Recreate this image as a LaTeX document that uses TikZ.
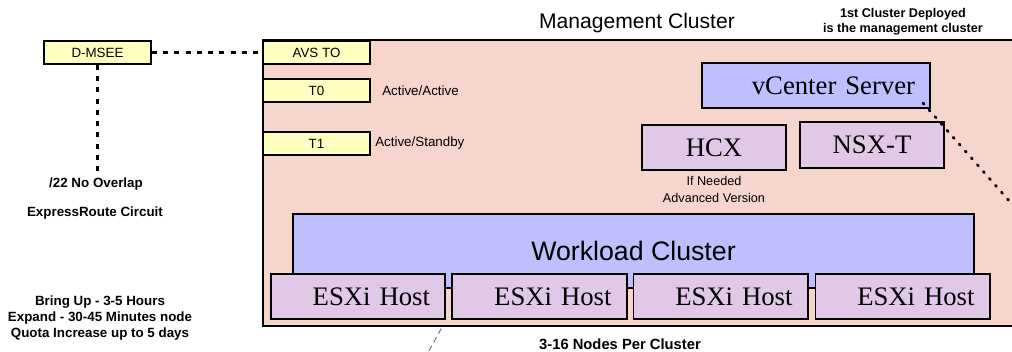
\documentclass[tikz,border=0pt]{standalone}
\usepackage{fontspec}
\setmainfont{Liberation Sans}
\newfontfamily\hostfont{Liberation Serif}
\usetikzlibrary{positioning,backgrounds}

\definecolor{mgmtpink}{HTML}{F5D5CC}
\definecolor{edgeyellow}{HTML}{FFFFC0}
\definecolor{clusterblue}{HTML}{BFBFFF}
\definecolor{vmpurple}{HTML}{E0C8E6}

\tikzset{
  edgebox/.style={draw, line width=1.4pt, fill=edgeyellow, minimum width=2.675cm,
    minimum height=0.575cm, inner sep=0pt, font=\fontsize{9.5}{11}\selectfont},
  vmbox/.style={draw, line width=1.4pt, fill=vmpurple, minimum height=1.125cm,
    inner sep=0pt, font=\hostfont\fontsize{19}{22}\selectfont},
  hostbox/.style={vmbox, text width=3.6cm, inner xsep=0.375cm, align=right},
  note/.style={inner sep=0pt, align=center, font=\bfseries\fontsize{9.5}{11.7}\selectfont},
  plainnote/.style={inner sep=0pt, align=center, font=\fontsize{9.5}{12}\selectfont},
  dotlink/.style={line width=1.6pt, dash pattern=on 3.5pt off 4.5pt}
}

\begin{document}
\begin{tikzpicture}[x=0.025cm, y=-0.025cm]

    \useasboundingbox (0,0) rectangle (1012,351);

    %% Management cluster area
    \draw[line width=1.4pt, fill=mgmtpink] (263,40) rectangle (1018,326);
    \node[font=\fontsize{15}{18}\selectfont] (mgmttitle) at (637,23) {Management Cluster};
    \node[note, font=\bfseries\fontsize{9}{10.7}\selectfont] (firstnote) at (903,22)
        {1st Cluster Deployed\\is the management cluster};

    % Edge boxes
    \node[edgebox] (dmsee) at (97.5,52.5) {D-MSEE};
    \node[edgebox] (avs) at (316.5,52.5) {AVS TO};
    \node[edgebox] (tzero) at (316.5,90.5) {T0};
    \node[edgebox] (tone) at (316.5,143.5) {T1};
    \node[plainnote, anchor=west, right=0.275cm of tzero] (tzeromode) {Active/Active};
    \node[plainnote, anchor=west, right=0.1cm of tone] (tonemode) {Active/Standby};

    % ExpressRoute link
    \coordinate (circuit) at (97.5,176);
    \draw[dotlink] (dmsee.east) -- (avs.west);
    \draw[dotlink] (dmsee.south) -- (circuit);
    \node[note] (overlap) at (96,184) {/22 No Overlap};
    \node[note] (expressroute) at (95,213) {ExpressRoute Circuit};
    \node[note] (timing) at (100,318)
        {Bring Up - 3-5 Hours\\Expand - 30-45 Minutes node\\Quota Increase up to 5 days};

    % Management VMs
    \node[vmbox, fill=clusterblue, text width=4.95cm, inner xsep=0.375cm, align=right]
        (vcenter) at (816,85.5) {vCenter Server};
    \node[vmbox, minimum width=3.6cm] (hcx) at (714,147.5) {HCX};
    \node[vmbox, minimum width=3.6cm, minimum height=1.15cm] (nsxt) at (872,145) {NSX-T};
    \node[plainnote, font=\fontsize{9}{12}\selectfont, below=0.125cm of hcx] (hcxnote)
        {If Needed\\Advanced Version};

    % Line from vCenter out of the picture
    \coordinate (offright) at (1011,203);
    \draw[line width=2pt, line cap=round, dash pattern=on 1pt off 5.5pt]
        ([xshift=-0.2cm,yshift=0.15cm]vcenter.south east) -- (offright);

    % Workload cluster and hosts
    \node[draw, line width=1.4pt, fill=clusterblue, minimum width=17.025cm, minimum height=1.85cm,
        inner sep=0pt, font=\fontsize{19}{22}\selectfont] (workload) at (633.5,251) {Workload Cluster};
    \node[hostbox] (host1) at (358,296.5) {ESXi Host};
    \node[hostbox] (host2) at (539.5,296.5) {ESXi Host};
    \node[hostbox] (host3) at (720.5,296.5) {ESXi Host};
    \node[hostbox] (host4) at (902.5,296.5) {ESXi Host};
    \node[note, font=\bfseries\fontsize{10.5}{12}\selectfont] (nodecount) at (620,344) {3-16 Nodes Per Cluster};

    % Gray line below the hosts
    \coordinate (offbottom) at (425,358);
    \begin{pgfonlayer}{background}
        \draw[gray, line width=0.8pt, dash pattern=on 4pt off 3pt] (host1.south east) -- (offbottom);
    \end{pgfonlayer}

\end{tikzpicture}
\end{document}
